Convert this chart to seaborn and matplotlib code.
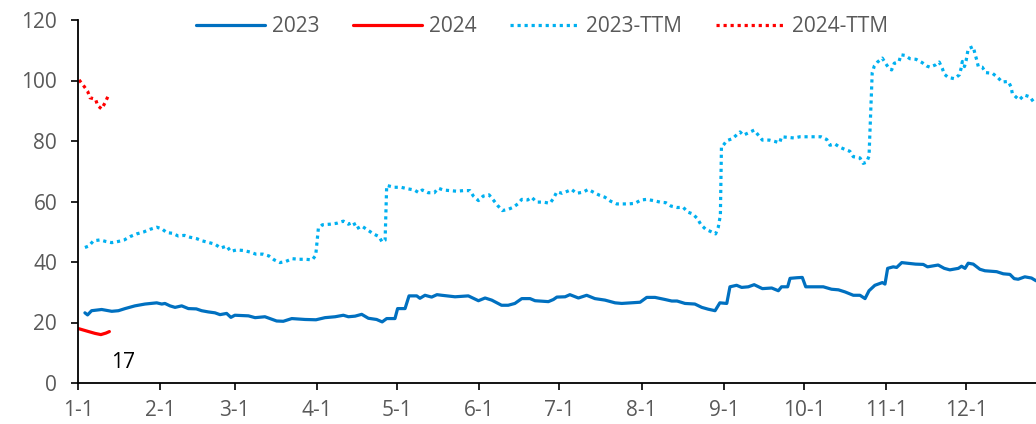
import matplotlib
matplotlib.use("Agg")
import matplotlib.pyplot as plt
import seaborn as sns
import pandas as pd

# Day of year (0 = Jan 1) and values for each series
days_2023 = [2.6, 3.6, 5.1, 8.9, 11.4, 12.7, 15.2, 17.7, 21.4, 25.2, 29.6, 31.5, 32.7, 34.6, 36.5,
             39.0, 41.5, 44.5, 46.5, 49.0, 51.5, 53.4, 55.9, 57.5, 59.0, 64.1, 66.6, 70.3, 74.7,
             77.2, 80.4, 85.4, 89.5, 92.9, 96.7, 99.8, 101.7, 104.2, 106.7, 109.2, 112.3, 114.4,
             116.1, 119.2, 120.2, 123.0, 124.5, 127.4, 128.6, 130.5, 133.0, 135.0, 136.8, 141.8,
             146.8, 150.6, 153.1, 155.6, 159.3, 161.8, 164.3, 166.9, 170.0, 171.9, 176.9, 178.8,
             180.1, 183.2, 185.0, 188.2, 191.3, 194.4, 198.2, 202.0, 204.5, 208.2, 211.4, 213.9,
             217.0, 220.8, 223.3, 225.3, 228.3, 232.0, 234.6, 237.0, 239.6, 241.4, 244.0, 245.2,
             247.7, 249.6, 252.1, 254.3, 257.4, 260.9, 263.4, 264.6, 266.9, 267.8, 270.4, 272.4,
             273.7, 280.3, 283.4, 286.0, 288.5, 291.6, 294.1, 296.0, 297.5, 299.7, 302.5, 303.5,
             304.5, 306.6, 307.9, 309.8, 315.0, 317.9, 319.5, 323.5, 325.8, 327.9, 331.1, 332.3,
             333.6, 334.8, 336.7, 339.2, 341.1, 345.5, 348.0, 350.5, 352.1, 353.6, 356.1, 358.6,
             360.3]
vals_2023 = [23.2, 22.5, 23.9, 24.3, 23.9, 23.7, 23.9, 24.6, 25.5, 26.1, 26.5, 26.1, 26.3, 25.5, 25.0,
             25.5, 24.6, 24.5, 23.9, 23.5, 23.2, 22.6, 23.0, 21.7, 22.4, 22.2, 21.6, 21.9, 20.5,
             20.4, 21.3, 21.0, 20.9, 21.6, 21.9, 22.4, 21.9, 22.1, 22.7, 21.4, 21.0, 20.2,
             21.3, 21.3, 24.6, 24.6, 28.8, 28.8, 28.0, 29.0, 28.4, 29.2, 29.0, 28.5,
             28.8, 27.2, 28.1, 27.4, 25.7, 25.7, 26.3, 27.9, 27.9, 27.2, 26.9, 27.6,
             28.4, 28.5, 29.2, 28.1, 29.0, 27.9, 27.4, 26.5, 26.3, 26.5, 26.7, 28.3,
             28.3, 27.6, 27.1, 27.1, 26.3, 26.1, 25.0, 24.4, 23.9, 26.5, 26.3, 31.8,
             32.3, 31.6, 31.8, 32.5, 31.2, 31.4, 30.5, 31.8, 31.8, 34.6, 34.8, 34.9,
             31.8, 31.8, 31.0, 30.8, 30.1, 29.0, 29.0, 27.9, 30.5, 32.3, 33.2, 32.7,
             37.9, 38.4, 38.2, 39.8, 39.3, 39.2, 38.4, 39.0, 37.9, 37.4, 37.9, 38.6,
             37.9, 39.6, 39.3, 37.6, 37.1, 36.8, 36.1, 35.9, 34.5, 34.3, 35.1, 34.7,
             33.8]

days_2024 = [0.1, 3.6, 6.4, 8.6, 10.5, 11.8]
vals_2024 = [18.0, 17.1, 16.4, 16.0, 16.5, 17.0]

days_2023_ttm = [2.6, 4.1, 5.8, 8.3, 10.4, 12.7, 15.2, 17.4, 19.6, 22.1, 24.6, 27.1, 29.6, 31.5, 33.4,
                 35.5, 37.7, 40.0, 42.1, 44.7, 46.7, 49.3, 51.5, 53.7, 55.9, 57.4, 59.7, 62.2,
                 64.7, 66.9, 69.5, 71.8, 73.8, 76.0, 78.2, 80.6, 83.1, 85.6, 88.1, 89.4, 90.4,
                 91.9, 94.8, 97.3, 99.8, 101.7, 103.6, 104.8, 106.7, 108.9, 111.1, 113.2, 114.4,
                 115.5, 116.1, 119.0, 121.5, 124.0, 126.5, 128.2, 129.5, 131.7, 134.0, 135.5,
                 137.4, 139.9, 142.4, 144.9, 147.4, 148.7, 150.6, 152.4, 154.6, 156.2, 157.8,
                 159.6, 161.8, 163.7, 165.4, 166.9, 169.1, 170.6, 172.5, 175.0, 177.5, 178.8,
                 180.1, 182.1, 184.1, 185.6, 187.5, 190.0, 191.9, 194.2, 196.3, 198.2, 200.3,
                 202.6, 204.8, 207.0, 209.5, 211.7, 213.9, 216.4, 218.9, 221.1, 223.0, 225.4,
                 227.6, 229.3, 231.2, 233.0, 234.3, 236.1, 237.9, 239.8, 240.8, 241.6, 242.0,
                 242.7, 244.0, 246.2, 247.8, 249.0, 250.2, 252.1, 254.3, 255.9, 257.4, 260.0,
                 261.9, 263.9, 264.6, 267.1, 269.3, 271.5, 274.0, 276.5, 279.4, 281.6, 282.8,
                 284.7, 286.6, 288.5, 290.3, 291.6, 294.1, 295.3, 296.6, 297.5, 298.7, 299.5,
                 300.7, 302.5, 303.7, 305.1, 306.0, 307.0, 308.8, 309.5, 311.0, 312.9, 315.2,
                 317.5, 319.2, 320.4, 322.6, 323.9, 325.1, 325.8, 327.3, 329.6, 331.5, 332.1,
                 332.6, 333.4, 334.0, 334.8, 336.7, 337.3, 338.0, 338.6, 340.1, 341.4, 343.9,
                 345.9, 347.6, 349.9, 350.9, 351.4, 352.7, 354.0, 355.9, 358.0, 359.4, 360.3]
vals_2023_ttm = [44.8, 45.3, 47.0, 47.3, 46.8, 46.4, 46.8, 47.3, 48.4, 49.3, 49.9, 50.8, 51.5, 51.0, 49.7,
                 49.5, 48.6, 48.8, 48.2, 47.7, 47.0, 46.4, 45.9, 44.6, 45.3, 43.5, 44.0, 43.8,
                 43.3, 42.6, 42.6, 42.0, 40.7, 39.8, 40.2, 41.1, 40.9, 40.9, 40.7, 42.2, 51.1,
                 52.3, 52.5, 52.8, 53.5, 52.5, 53.2, 51.0, 51.9, 50.6, 49.3, 48.4, 46.6,
                 47.2, 65.3, 64.7, 64.7, 64.2, 63.8, 62.9, 63.8, 62.9, 62.9, 64.4,
                 63.8, 63.6, 63.4, 63.6, 63.6, 61.8, 60.3, 61.8, 62.2, 60.5, 58.7,
                 57.0, 57.4, 58.1, 59.2, 60.7, 60.5, 61.4, 59.8, 59.8, 59.4, 61.0,
                 63.2, 62.7, 63.4, 64.0, 62.7, 63.1, 64.0, 62.9, 62.0, 61.4, 60.1,
                 59.2, 59.2, 59.2, 59.4, 60.5, 60.7, 60.3, 59.8, 59.6, 58.5, 58.0,
                 58.1, 56.5, 55.9, 54.3, 52.3, 50.8, 50.1, 49.3, 51.5, 55.5, 78.3,
                 78.6, 80.1, 80.8, 82.1, 83.0, 81.9, 82.7, 83.6, 81.9, 80.3, 80.3,
                 79.9, 79.4, 81.4, 81.2, 81.0, 81.4, 81.4, 81.4, 81.4, 80.5, 78.6,
                 79.0, 77.9, 77.2, 76.6, 74.8, 74.4, 72.6, 73.0, 75.0, 102.6, 104.8,
                 106.1, 107.4, 105.7, 103.9, 103.5, 105.7, 106.3, 108.5, 108.3, 107.2, 107.0,
                 105.9, 104.8, 104.4, 105.2, 106.1, 103.9, 102.1, 101.0, 100.6, 101.9, 103.9,
                 106.3, 104.6, 106.5, 110.5, 111.2, 109.0, 106.8, 104.6, 104.4, 102.6, 102.4,
                 101.0, 99.5, 99.7, 97.9, 95.7, 94.6, 93.6, 95.2, 94.6, 92.9, 92.5]

days_2024_ttm = [0.4, 2.0, 3.6, 4.5, 6.6, 7.4, 8.9, 10.2, 11.5]
vals_2024_ttm = [100.2, 98.4, 96.5, 94.3, 93.8, 91.7, 90.6, 92.7, 95.2]

month_starts = [0, 31, 59, 90, 120, 151, 181, 212, 243, 273, 304, 334]
month_labels = ["1-1", "2-1", "3-1", "4-1", "5-1", "6-1", "7-1", "8-1", "9-1", "10-1", "11-1", "12-1"]

sns.set_style("ticks")
plt.rcParams["font.family"] = ["Open Sans", "DejaVu Sans"]

fig = plt.figure(figsize=(10.36, 4.24), dpi=100)
ax = fig.add_axes([78 / 1036, 1 - 383 / 424, 1 - 78 / 1036, (383 - 20) / 424])

series = [
    ("2023", days_2023, vals_2023, "#0070C0", "-"),
    ("2024", days_2024, vals_2024, "#FF0000", "-"),
    ("2023-TTM", days_2023_ttm, vals_2023_ttm, "#00B0F0", (0, (1, 1.2))),
    ("2024-TTM", days_2024_ttm, vals_2024_ttm, "#FF0000", (0, (1, 1.2))),
]
for name, d, v, color, ls in series:
    df = pd.DataFrame({"day": d, "value": v})
    sns.lineplot(data=df, x="day", y="value", ax=ax, color=color, linestyle=ls,
                 linewidth=2.3, label=name, estimator=None, sort=False)

ax.annotate(f"{vals_2024[-1]:.0f}", xy=(days_2024[-1], vals_2024[-1]),
            xytext=(10, -22), textcoords="offset points",
            ha="center", va="center", fontsize=15, color="black")

ax.set_xlim(0, 360.3)
ax.set_ylim(0, 120)
ax.set_yticks(range(0, 121, 20))
ax.set_xticks(month_starts)
ax.set_xticklabels(month_labels)
ax.set_xlabel("")
ax.set_ylabel("")

for side in ("top", "right"):
    ax.spines[side].set_visible(False)
for side in ("left", "bottom"):
    ax.spines[side].set_color("black")
    ax.spines[side].set_linewidth(1.3)
ax.tick_params(axis="y", direction="out", length=5, width=1.2, color="black",
               labelsize=15, labelcolor="#595959", pad=10)
ax.tick_params(axis="x", direction="out", length=5, width=1.2, color="black",
               labelsize=15, labelcolor="#595959", pad=7)

leg = ax.legend(loc="center", bbox_to_anchor=(542 / 1036, 1 - 27 / 424),
                bbox_transform=fig.transFigure, ncol=4, frameon=False,
                fontsize=15, handlelength=3.3, handletextpad=0.35, columnspacing=1.6)
for t in leg.get_texts():
    t.set_color("#595959")

fig.savefig("out.png", dpi=100)
